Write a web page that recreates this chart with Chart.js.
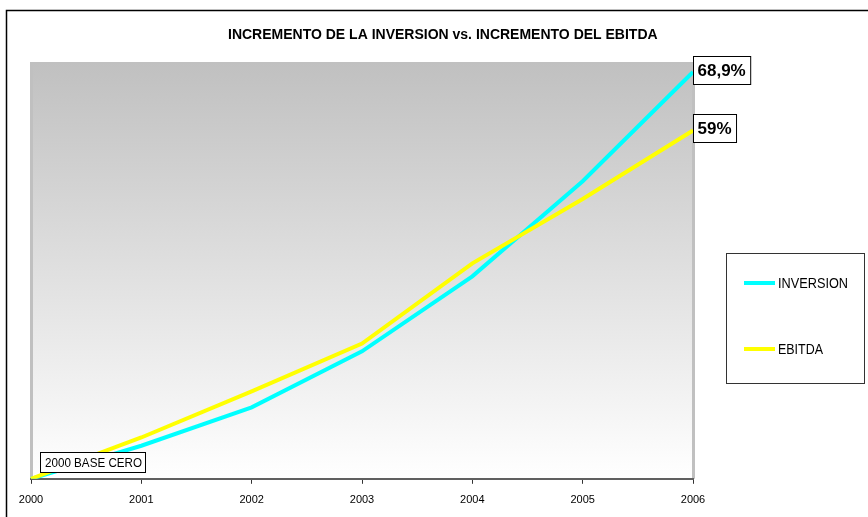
<!DOCTYPE html>
<html>
<head>
<meta charset="utf-8">
<script src="https://cdn.jsdelivr.net/npm/chart.js@4"></script>
<style>
  html, body { margin: 0; padding: 0; background: #fff; }
  #wrap { width: 868px; height: 517px; }
</style>
</head>
<body>
<div id="wrap"><canvas id="chart" width="868" height="517"></canvas></div>
<script>
const years = ["2000", "2001", "2002", "2003", "2004", "2005", "2006"];
const inversion = [0, 5.6, 12.1, 21.6, 34.3, 50.4, 68.9];
const ebitda = [0, 7.0, 14.8, 22.9, 36.5, 47.4, 59.0];
const endLabels = ["68,9%", "59%"];
const chartTitle = "INCREMENTO DE LA INVERSION vs. INCREMENTO DEL EBITDA";
const baseNote = "2000 BASE CERO";

// draw text squeezed to a given width (the original uses a narrow font)
function fitText(ctx, text, x, y, width) {
  const w = ctx.measureText(text).width;
  const s = Math.min(1, width / w);
  ctx.save();
  ctx.translate(x, y);
  ctx.scale(s, 1);
  ctx.fillText(text, 0, 0);
  ctx.restore();
}

const decor = {
  id: "decor",
  beforeDraw(chart) {
    const { ctx, chartArea: a } = chart;
    ctx.save();
    // plot area gradient
    const g = ctx.createLinearGradient(0, a.top, 0, a.bottom);
    g.addColorStop(0, "#c0c0c0");
    g.addColorStop(1, "#ffffff");
    ctx.fillStyle = g;
    ctx.fillRect(a.left, a.top, a.right - a.left, a.bottom - a.top);
    // side walls
    ctx.fillStyle = "#c0c0c0";
    ctx.fillRect(a.left - 1, a.top, 3, a.bottom - a.top);
    ctx.fillRect(a.right - 1, a.top, 3, a.bottom - a.top);
    // outer frame
    ctx.strokeStyle = "#000";
    ctx.lineWidth = 1.5;
    ctx.strokeRect(6.5, 10.5, 900, 600);
    ctx.restore();
  },
  afterDraw(chart) {
    const { ctx } = chart;
    const xs = chart.scales.x, ys = chart.scales.y;
    ctx.save();
    ctx.fillStyle = "#000";
    ctx.textBaseline = "middle";

    // title
    ctx.font = "bold 14px 'Liberation Sans', Arial, sans-serif";
    fitText(ctx, chartTitle, 228, 35, 437);

    // end value labels
    ctx.font = "bold 17px 'Liberation Sans', Arial, sans-serif";
    chart.data.datasets.forEach((ds, i) => {
      const last = ds.data.length - 1;
      const px = xs.getPixelForValue(last);
      const py = ys.getPixelForValue(ds.data[last]);
      const w = ctx.measureText(endLabels[i]).width + 9;
      const bx = Math.round(px) + 0.5, by = Math.round(py - 16) + 0.5;
      ctx.fillStyle = "#fff";
      ctx.fillRect(bx, by, w, 28);
      ctx.strokeStyle = "#000";
      ctx.lineWidth = 1;
      ctx.strokeRect(bx, by, w, 28);
      ctx.fillStyle = "#000";
      ctx.fillText(endLabels[i], bx + 4, by + 15);
    });

    // base note
    ctx.font = "13px 'Liberation Sans', Arial, sans-serif";
    ctx.fillStyle = "#fff";
    ctx.fillRect(40.5, 452.5, 105, 20);
    ctx.strokeStyle = "#000";
    ctx.strokeRect(40.5, 452.5, 105, 20);
    ctx.fillStyle = "#000";
    fitText(ctx, baseNote, 45, 463, 97);

    // legend
    ctx.fillStyle = "#fff";
    ctx.fillRect(726.5, 253.5, 138, 130);
    ctx.strokeStyle = "#333";
    ctx.strokeRect(726.5, 253.5, 138, 130);
    ctx.font = "15px 'Liberation Sans', Arial, sans-serif";
    const ly = [283, 349];
    const lw = [70, 45];
    chart.data.datasets.forEach((ds, i) => {
      ctx.strokeStyle = ds.borderColor;
      ctx.lineWidth = 4;
      ctx.beginPath();
      ctx.moveTo(744, ly[i]);
      ctx.lineTo(775, ly[i]);
      ctx.stroke();
      ctx.fillStyle = "#000";
      fitText(ctx, ds.label, 778, ly[i] + 1, lw[i]);
    });
    ctx.restore();
  }
};

const ctx = document.getElementById("chart");

new Chart(ctx, {
  type: "line",
  data: {
    labels: years,
    datasets: [
      {
        label: "INVERSION",
        data: inversion,
        borderColor: "#00ffff",
        borderWidth: 4,
        pointRadius: 0,
        tension: 0,
        order: 1,
      },
      {
        label: "EBITDA",
        data: ebitda,
        borderColor: "#ffff00",
        borderWidth: 4,
        pointRadius: 0,
        tension: 0,
        order: 0,
      },
    ],
  },
  options: {
    responsive: false,
    animation: false,
    events: [],
    layout: {
      padding: { left: 31, right: 175, top: 62, bottom: 0 },
    },
    plugins: {
      legend: { display: false },
      tooltip: { enabled: false },
    },
    scales: {
      x: {
        offset: false,
        grid: {
          display: true,
          drawOnChartArea: false,
          drawTicks: true,
          tickLength: 5,
          color: "#333",
        },
        border: { display: true, color: "#606060", width: 2 },
        ticks: {
          color: "#000",
          padding: 10,
          maxRotation: 0,
          font: { family: "'Liberation Sans', Arial, sans-serif", size: 11 },
        },
      },
      y: {
        display: false,
        min: 0,
        max: 70.6,
      },
    },
  },
  plugins: [decor],
});
</script>
</body>
</html>
